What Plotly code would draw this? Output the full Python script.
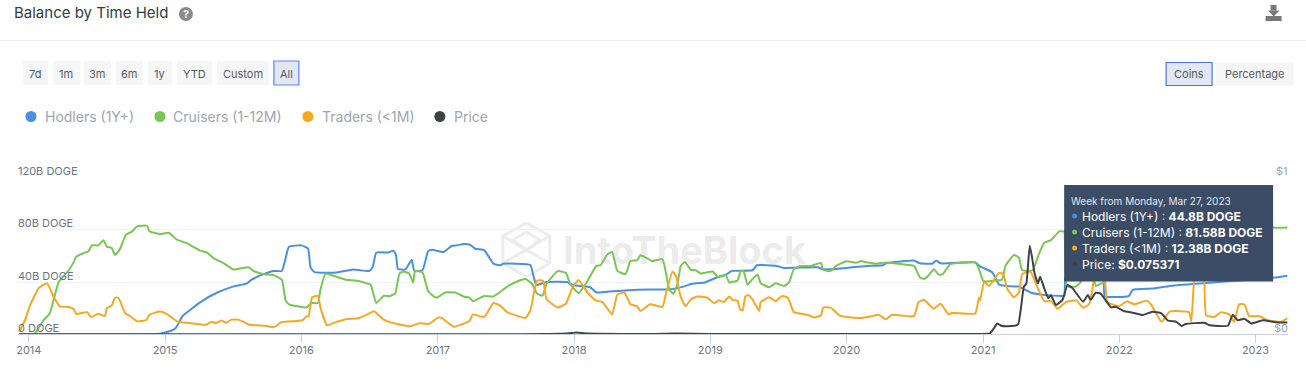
import datetime as dt
import plotly.graph_objects as go

W, H = 1306, 381

hodlers_t = [2013.93,2014.9,2014.95,2015.0,2015.05,2015.08,2015.13,2015.262,2015.384,2015.506,2015.604,2015.64,2015.726,2015.80,2015.86,2015.885,2015.91,2016.0,2016.05,2016.07,2016.10,2016.26,2016.38,2016.50,2016.525,2016.55,2016.64,2016.675,2016.695,2016.71,2016.765,2016.81,2016.83,2016.89,2016.93,2016.96,2017.045,2017.105,2017.14,2017.19,2017.24,2017.275,2017.34,2017.37,2017.41,2017.46,2017.48,2017.68,2017.70,2017.725,2017.80,2017.95,2018.0,2018.12,2018.165,2018.29,2018.465,2018.71,2018.81,2018.86,2018.96,2019.05,2019.11,2019.16,2019.31,2019.345,2019.49,2019.54,2019.79,2019.825,2019.885,2020.0,2020.147,2020.27,2020.29,2020.41,2020.495,2020.54,2020.63,2020.66,2020.69,2020.945,2020.98,2021.07,2021.12,2021.17,2021.265,2021.35,2021.46,2021.58,2021.60,2021.61,2021.88,2021.895,2022.07,2022.10,2022.245,2022.37,2022.54,2022.83,2023.13,2023.236]
hodlers_v = [0,0,0.3,1.5,3,5,14,24.7,32,36.7,39,42,46,48.5,48.5,58,67,68,65.7,51,47.5,47.3,49.6,48.5,52,62.4,62.6,64,60.6,50,49.6,57,48.5,49,63.6,64.6,63,67.7,68,69,68.4,65.4,64.4,60,54,52.8,54,53,46,37.7,40,40,37.5,36,32,33,34.2,34.5,36.7,38.5,39.7,43.5,45.3,48.5,49,52.8,52.3,50.8,51.3,49.8,49.8,50.8,52.3,52.8,54.3,55.8,56.4,54.3,54,56.4,54.3,55,52,47.3,38,37,36.5,32,30,29.4,29.5,44,44,29.2,29.2,34,35,37,38.5,40.7,43.2,44.8]

cruisers_t = [2013.93,2014.04,2014.11,2014.155,2014.22,2014.295,2014.33,2014.35,2014.40,2014.44,2014.465,2014.51,2014.55,2014.575,2014.61,2014.635,2014.67,2014.715,2014.76,2014.795,2014.87,2014.885,2014.967,2015.03,2015.085,2015.165,2015.26,2015.31,2015.36,2015.43,2015.505,2015.615,2015.65,2015.73,2015.80,2015.86,2015.885,2015.91,2016.04,2016.075,2016.125,2016.14,2016.18,2016.235,2016.33,2016.41,2016.48,2016.51,2016.55,2016.605,2016.65,2016.69,2016.72,2016.75,2016.79,2016.82,2016.835,2016.89,2016.93,2016.98,2017.0,2017.055,2017.13,2017.19,2017.235,2017.26,2017.34,2017.41,2017.51,2017.595,2017.645,2017.695,2017.73,2017.77,2017.80,2017.88,2017.94,2017.975,2018.035,2018.085,2018.165,2018.195,2018.245,2018.28,2018.32,2018.38,2018.415,2018.465,2018.49,2018.54,2018.575,2018.65,2018.675,2018.70,2018.73,2018.76,2018.785,2018.815,2018.86,2018.895,2018.93,2019.02,2019.055,2019.115,2019.14,2019.20,2019.225,2019.245,2019.275,2019.31,2019.35,2019.37,2019.435,2019.48,2019.545,2019.58,2019.615,2019.655,2019.74,2019.815,2019.83,2019.885,2019.925,2020.0,2020.07,2020.11,2020.14,2020.215,2020.29,2020.41,2020.495,2020.54,2020.57,2020.60,2020.64,2020.68,2020.705,2020.76,2020.85,2020.945,2020.97,2021.0,2021.02,2021.14,2021.165,2021.23,2021.265,2021.29,2021.365,2021.41,2021.45,2021.50,2021.56,2021.59,2021.60,2021.615,2021.63,2021.68,2021.72,2021.75,2021.80,2021.83,2021.87,2021.89,2021.90,2022.2,2022.6,2023.0,2023.10,2023.14,2023.236]
cruisers_v = [0,0,11,16,40,49,55,59.4,62,63.6,68,68,72,67,66,60.6,65,76,78.7,82.5,83,78.7,76.7,77.7,72.5,69.4,64,62.4,58,54.6,49.6,51.3,48.5,46,45.3,41.8,26,23,20.6,24,24,33.5,46.5,44.8,41.8,41,39,38,24,29.4,29.2,31.4,46.5,48,46.5,39.7,48.5,47.3,33,28.4,28.4,32,32,29,28,25.4,29.4,29,36.5,41,42.3,38.5,31,29.7,38.5,48.3,47,38.5,31.4,38.5,52.3,52.8,61,63,48.5,46,56,56.6,60.4,58,56,57.4,47.3,34.7,31,38.5,52.3,55.3,49.3,49,46.5,48,44,45.5,39.7,41.2,48.5,48.5,38,42.3,45.5,39.2,36,39,37,39.7,49.8,52,52.3,54.6,49.3,48.5,52.3,55.8,54.8,56,55.3,54,55,53.6,52.3,43.5,42.3,44.8,49.8,45.5,46,53.6,55,55,50,41,40.5,42,52.3,60.6,58.6,49,49,61,70,72,78.7,78.7,78,38,36.5,36.5,40,55,52,37,39,39,72,80,78,80,83,81.5,81.58]

traders_t = [2013.93,2013.975,2014.01,2014.075,2014.135,2014.185,2014.23,2014.295,2014.33,2014.35,2014.43,2014.46,2014.51,2014.56,2014.575,2014.61,2014.635,2014.66,2014.71,2014.735,2014.795,2014.865,2014.885,2014.965,2015.03,2015.09,2015.165,2015.30,2015.345,2015.375,2015.415,2015.45,2015.49,2015.54,2015.615,2015.75,2015.785,2015.82,2015.85,2015.97,2016.01,2016.04,2016.055,2016.08,2016.125,2016.14,2016.19,2016.24,2016.335,2016.42,2016.485,2016.535,2016.605,2016.68,2016.80,2016.865,2016.935,2017.0,2017.03,2017.12,2017.18,2017.235,2017.26,2017.34,2017.41,2017.46,2017.51,2017.645,2017.68,2017.705,2017.73,2017.775,2017.80,2017.88,2017.94,2017.99,2018.035,2018.10,2018.16,2018.21,2018.28,2018.32,2018.37,2018.415,2018.465,2018.49,2018.56,2018.65,2018.675,2018.725,2018.75,2018.785,2018.82,2018.86,2018.905,2018.98,2019.03,2019.065,2019.10,2019.14,2019.165,2019.20,2019.22,2019.24,2019.26,2019.28,2019.31,2019.36,2019.37,2019.435,2019.48,2019.53,2019.57,2019.615,2019.715,2019.765,2019.815,2019.83,2019.885,2019.95,2020.01,2020.11,2020.18,2020.235,2020.29,2020.335,2020.495,2020.53,2020.57,2020.60,2020.64,2020.69,2020.75,2020.775,2020.945,2020.97,2020.98,2021.01,2021.045,2021.12,2021.15,2021.18,2021.23,2021.265,2021.29,2021.35,2021.39,2021.45,2021.50,2021.55,2021.61,2021.685,2021.735,2021.78,2021.81,2021.82,2021.89,2021.90,2021.915,2022.0,2022.06,2022.11,2022.20,2022.235,2022.31,2022.37,2022.515,2022.53,2022.55,2022.56,2022.615,2022.625,2022.64,2022.70,2022.75,2022.81,2022.845,2022.88,2022.92,2022.955,2023.03,2023.09,2023.19,2023.236]
traders_v = [2,11,22,35.5,39,28.4,21.4,21,19.4,15.6,17,13.3,15.8,14,20,22,28,28,15.8,14.6,10,11,15,17.4,14.6,10,8.8,7.3,9.6,8.6,10.6,9,11.3,11.3,7.5,6.5,5.5,6.5,9.3,10.3,10.8,13.8,14,28.4,29.4,21,7,8.8,11.8,12.3,15.3,17.6,11.3,8.5,6.3,8.5,8,12.8,12.6,5.8,7.8,10.3,15.3,13.3,24,22,17,12.6,18.4,31,41,41,27,20.6,23.4,36,41.5,32,26,24.7,15.3,30.4,32,23,21.4,17.9,23,21,31,48,44.8,28.4,21.6,26.7,29,28,24,26,24.7,29,26.4,25.8,19,18.4,29,30,26.7,18,24.7,28.4,25.4,29.4,28,17,15,13,14.6,20.4,20.4,14.6,13.3,12.6,13.8,15,11.5,15,14,24.7,26.4,23.4,19.6,23.4,15.3,16.4,16,28,26,40.5,37,47,46,34.7,28.4,32,46,48,38.5,25.4,25.4,19.6,24.7,26,20.4,23,38.5,52,52,38.5,24.7,21.6,25.4,23,25.8,23,9.6,17.4,17,9.6,41,55,55,41,14.6,13.3,17,15.3,9.6,23,23,14,14,10.8,9.6,12.38]

price_t = [2013.93,2017.5,2017.95,2018.02,2018.1,2018.6,2018.75,2019.0,2019.5,2020.5,2020.97,2021.05,2021.08,2021.105,2021.14,2021.215,2021.26,2021.28,2021.30,2021.32,2021.345,2021.36,2021.38,2021.405,2021.42,2021.45,2021.48,2021.50,2021.535,2021.585,2021.62,2021.66,2021.735,2021.77,2021.79,2021.83,2021.865,2021.94,2021.975,2022.035,2022.10,2022.17,2022.245,2022.31,2022.36,2022.42,2022.46,2022.49,2022.625,2022.66,2022.80,2022.835,2022.87,2022.92,2022.97,2023.055,2023.15,2023.236]
price_v = [0.0005,0.001,0.006,0.012,0.005,0.003,0.006,0.002,0.003,0.003,0.003,0.006,0.038,0.07,0.053,0.053,0.064,0.176,0.30,0.325,0.565,0.495,0.39,0.325,0.367,0.293,0.23,0.25,0.187,0.22,0.314,0.293,0.208,0.25,0.22,0.265,0.26,0.172,0.176,0.149,0.138,0.123,0.144,0.134,0.087,0.08,0.053,0.066,0.074,0.06,0.055,0.125,0.09,0.10,0.07,0.09,0.078,0.075371]

year_ticks = [2014,2015,2016,2017,2018,2019,2020,2021,2022,2023]
left_ticks = [0,40,80,120]
left_labels = ["0 DOGE","40B DOGE","80B DOGE","120B DOGE"]
right_ticks = [0,1]
right_labels = ["$0","$1"]
range_buttons = ["7d","1m","3m","6m","1y","YTD","Custom","All"]
unit_buttons = ["Coins","Percentage"]
legend_names = ["Hodlers (1Y+)","Cruisers (1-12M)","Traders (<1M)","Price"]

BLUE, GREEN, ORANGE, DARK = "#4a90e2", "#78c653", "#f7a823", "#3e4347"
FONT = "Inter"


def to_date(y):
    yr = int(y)
    start = dt.datetime(yr, 1, 1)
    days = (dt.datetime(yr + 1, 1, 1) - start).days
    return (start + dt.timedelta(days=(y - yr) * days)).strftime("%Y-%m-%d")


def X(p):
    return (p - 2 + p * 0.0012) / W


def Y(p):
    return 1 - p / H


fig = go.Figure()
for name, t, v, c, ax in [
    (legend_names[0], hodlers_t, hodlers_v, BLUE, "y"),
    (legend_names[1], cruisers_t, cruisers_v, GREEN, "y"),
    (legend_names[2], traders_t, traders_v, ORANGE, "y"),
    (legend_names[3], price_t, price_v, DARK, "y2"),
]:
    fig.add_trace(go.Scatter(x=[to_date(a) for a in t], y=v, name=name, mode="lines",
                             yaxis=ax, line=dict(color=c, width=2, shape="spline", smoothing=0.4),
                             hoverinfo="skip"))

shapes, ann = [], []


def rect(x0, y0, x1, y1, fill, line=None, lw=0, layer="above"):
    shapes.append(dict(type="rect", xref="paper", yref="paper", x0=X(x0), x1=X(x1), y0=Y(y0), y1=Y(y1),
                       fillcolor=fill, line=dict(color=line or fill, width=lw), layer=layer))


def dot(cx, cy, r, fill):
    shapes.append(dict(type="circle", xref="paper", yref="paper", x0=X(cx - r), x1=X(cx + r),
                       y0=Y(cy + r), y1=Y(cy - r), fillcolor=fill, line=dict(width=0)))


def text(x, y, s, size, color, anchor="left", weight=None):
    ann.append(dict(xref="paper", yref="paper", x=X(x), y=Y(y), text=s, showarrow=False, xanchor=anchor,
                    yanchor="middle", align=anchor, borderpad=0, borderwidth=0,
                    font=dict(family=FONT, size=size, color=color, **({"weight": weight} if weight else {}))))


def poly(points, color, width=0, fill=None, layer="above"):
    d = "M" + " L".join(f"{X(a):.5f},{Y(b):.5f}" for a, b in points)
    if fill:
        d += " Z"
    shapes.append(dict(type="path", xref="paper", yref="paper", path=d, layer=layer,
                       fillcolor=fill or "rgba(0,0,0,0)", line=dict(color=color, width=width)))


# axis value labels sit just above their gridlines, inside the plot
for v, lab in zip(left_ticks, left_labels):
    ann.append(dict(xref="paper", yref="y", x=X(18), y=v, yshift=6.5, text=lab, showarrow=False, xanchor="left",
                    yanchor="middle", borderpad=0, borderwidth=0, font=dict(family=FONT, size=11, color="#6b7584")))
for v, lab in zip(right_ticks, right_labels):
    ann.append(dict(xref="paper", yref="y2", x=X(1288), y=v, yshift=6.5, text=lab, showarrow=False, xanchor="right",
                    yanchor="middle", borderpad=0, borderwidth=0, font=dict(family=FONT, size=11, color="#9aa6b5")))

# header
text(14, 12.5, "Balance by Time Held", 15, "#2f3d4a")
dot(186, 14, 7, "#8a8a8a")
text(186, 14, "<b>?</b>", 11, "#ffffff", "center")
poly([(0, 40.5), (W + 4, 40.5)], "#ececec", 1)
poly([(-4, 40.5), (4, 40.5)], "#ececec", 1)
rect(1271, 5, 1277, 10.5, "#777777")
poly([(1268.5, 10.5), (1280, 10.5), (1274, 16.5)], "#777777", 0, "#777777")
rect(1266, 16, 1282, 21, "#777777")

# range buttons
range_pos = [(23, 48), (53, 80), (84, 111), (116, 143), (148, 172), (177, 212), (217, 269), (274, 299)]
for lab, (a, b) in zip(range_buttons, range_pos):
    on = lab == "All"
    rect(a, 61, b, 85, "#e2e7f3" if on else "#f6f6f6", "#5b84f5" if on else None, 1.2 if on else 0)
    text((a + b) / 2, 74, lab, 11, "#555b63", "center")
unit_pos = [(1166.5, 1212.5), (1216, 1294)]
for lab, (a, b) in zip(unit_buttons, unit_pos):
    on = lab == "Coins"
    rect(a, 62.5, b, 85.5, "#e2e7f3" if on else "#f6f6f6", "#3f7be0" if on else None, 1.2 if on else 0)
    text((a + b) / 2, 74, lab, 11, "#555b63", "center")

# legend
for name, c, dx, tx in zip(legend_names, [BLUE, GREEN, ORANGE, DARK], [31, 160, 308, 440], [45, 173.5, 322, 454]):
    dot(dx, 116.5, 5.5, c)
    text(tx, 116, name.replace("<", "&lt;"), 14, "#9aa6b5")

# watermark
wm = "#ececec"
poly([(526.5, 223), (550, 236), (550, 263), (526.5, 277), (503, 263), (503, 236), (526.5, 223)], wm, 3, layer="below")
poly([(503, 236), (526.5, 250), (550, 236)], wm, 3, layer="below")
poly([(503, 263), (526.5, 250), (550, 263)], wm, 3, layer="below")
poly([(526.5, 232), (540, 240), (526.5, 250), (513, 240), (526.5, 232)], wm, 3, layer="below")
text(563, 250, "IntoTheBlock", 38, "rgba(170,170,170,0.24)", weight=700)

# tooltip
rect(1064.5, 185, 1273.5, 281.5, "#3a4c66")
text(1071.5, 201, "Week from Monday, Mar 27, 2023", 10, "#e4e8ee")
rows = [
    (BLUE, "Hodlers (1Y+) : <b>44.8B DOGE</b>"),
    (GREEN, "Cruisers (1-12M) : <b>81.58B DOGE</b>"),
    (ORANGE, "Traders (&lt;1M) : <b>12.38B DOGE</b>"),
    (DARK, "Price: <b>$0.075371</b>"),
]
for (c, s), ry in zip(rows, [216, 232, 248, 264]):
    dot(1075, ry, 2.5, c)
    text(1082.5, ry, s, 12, "#ffffff")

fig.update_layout(
    width=W, height=H, margin=dict(l=0, r=0, t=0, b=0, pad=0), showlegend=False,
    paper_bgcolor="#ffffff", plot_bgcolor="#ffffff", font=dict(family=FONT, size=11, color="#6b7584"),
    shapes=shapes, annotations=ann,
    xaxis=dict(domain=[X(18), X(1288)], range=["2013-12-03", "2023-03-28"], type="date",
               tickvals=[f"{y}-01-01" for y in year_ticks], ticktext=[str(y) for y in year_ticks],
               showgrid=False, showline=True, linecolor="#c6d0e0", linewidth=1, ticks="outside",
               ticklen=8, tickcolor="#c6d0e0", tickfont=dict(size=11, color="#6b7584"), zeroline=False,
               anchor="y", ticklabelstandoff=-3),
    yaxis=dict(domain=[Y(334.4), Y(177.3)], range=[0, 120], tickvals=left_ticks, showticklabels=False,
               gridcolor="#f1f2f4", gridwidth=1, zeroline=False,
               showline=False, ticks="", anchor="x"),
    yaxis2=dict(domain=[Y(334.4), Y(177.3)], range=[0, 1], overlaying="y", side="right", tickvals=right_ticks,
                showticklabels=False, showgrid=False, zeroline=False,
                showline=False, ticks="", anchor="x"),
)

fig.write_html("out.html", config={"displayModeBar": False},
               post_script="document.body.style.margin='0';document.documentElement.style.overflow='hidden';")
